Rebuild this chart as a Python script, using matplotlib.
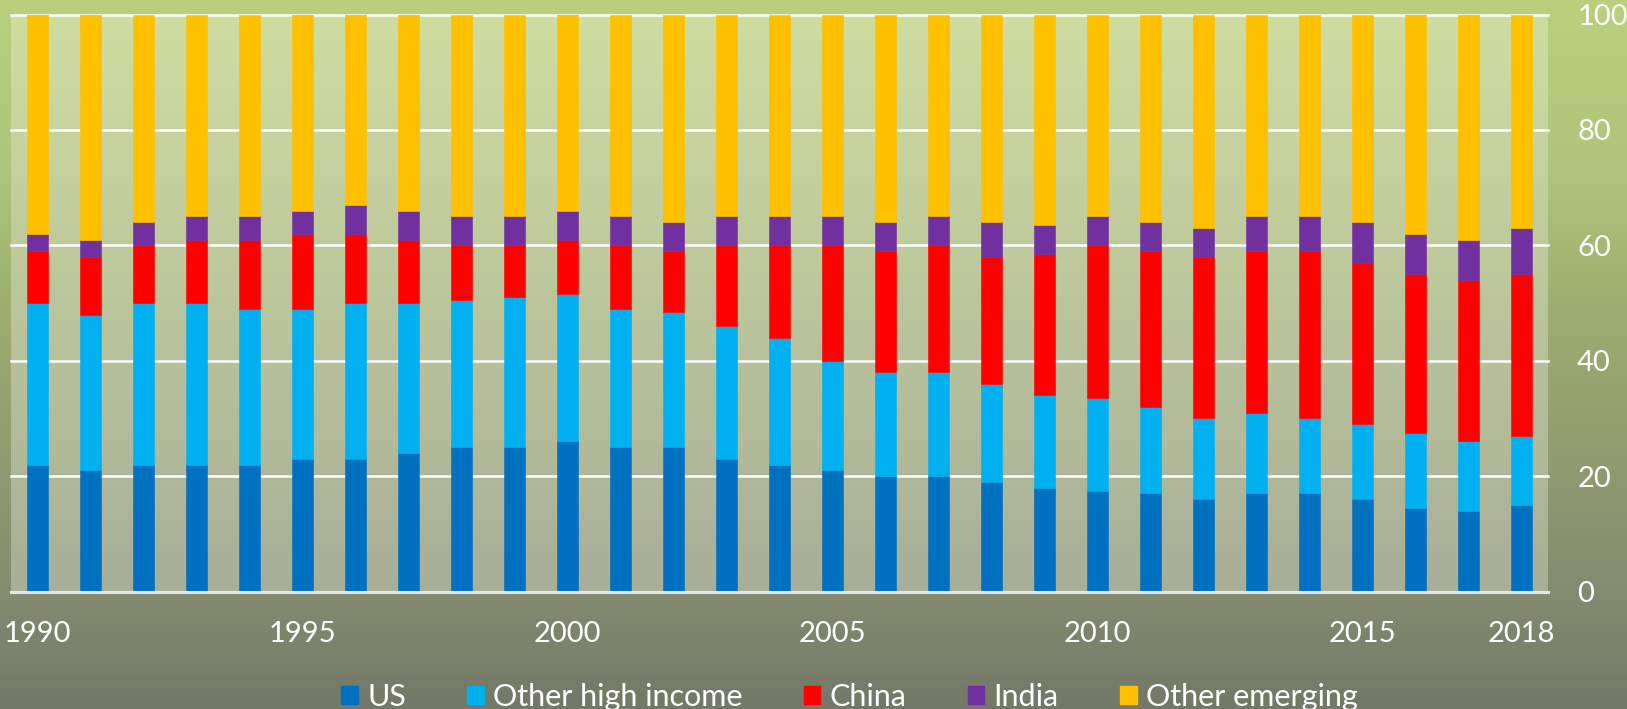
import numpy as np
import matplotlib
matplotlib.use("Agg")
import matplotlib.pyplot as plt
from matplotlib.colors import LinearSegmentedColormap
from matplotlib.patches import Patch

years = list(range(1990, 2019))
us = [22, 21, 22, 22, 22, 23, 23, 24, 25, 25, 26, 25, 25, 23, 22, 21, 20, 20, 19, 18, 17.5, 17, 16, 17, 17, 16, 14.5, 14, 15]
other_high = [28, 27, 28, 28, 27, 26, 27, 26, 25.5, 26, 25.5, 24, 23.5, 23, 22, 19, 18, 18, 17, 16, 16, 15, 14, 14, 13, 13, 13, 12, 12]
china = [9, 10, 10, 11, 12, 13, 12, 11, 9.5, 9, 9.5, 11, 10.5, 14, 16, 20, 21, 22, 22, 24.5, 26.5, 27, 28, 28, 29, 28, 27.5, 28, 28]
india = [3, 3, 4, 4, 4, 4, 5, 5, 5, 5, 5, 5, 5, 5, 5, 5, 5, 5, 6, 5, 5, 5, 5, 6, 6, 7, 7, 7, 8]
other_emerging = [38, 39, 36, 35, 35, 34, 33, 34, 35, 35, 34, 35, 36, 35, 35, 35, 36, 35, 36, 36.5, 35, 36, 37, 35, 35, 36, 38, 39, 37]
series_names = ["US", "Other high income", "China", "India", "Other emerging"]
series_colors = ["#0070C0", "#00B0F0", "#FF0000", "#7030A0", "#FFC000"]
xtick_years = [1990, 1995, 2000, 2005, 2010, 2015, 2018]
ytick_vals = [0, 20, 40, 60, 80, 100]

plt.rcParams['font.family'] = ['Lato', 'DejaVu Sans']

W, H = 1627, 709
fig = plt.figure(figsize=(W / 100, H / 100), dpi=100)

# figure background gradient
bg = fig.add_axes([0, 0, 1, 1], zorder=-10)
bg_cmap = LinearSegmentedColormap.from_list("bg", [
    (0.0, "#B9D07D"), (0.25, "#AEC47A"), (0.42, "#9DB070"),
    (0.85, "#838A6F"), (1.0, "#737868")])
grad = np.linspace(0, 1, 256).reshape(-1, 1)
bg.imshow(grad, aspect='auto', cmap=bg_cmap, extent=[0, 1, 0, 1], origin='upper')
bg.set_axis_off()

left = 11 / W
right = 1548 / W
bottom = 1 - 591.5 / H
top = 1 - 14.5 / H
ax = fig.add_axes([left, bottom, right - left, top - bottom])

# plot area gradient
pa_cmap = LinearSegmentedColormap.from_list("pa", ["#CFDDA0", "#A8AE98"])
ax.imshow(grad, aspect='auto', cmap=pa_cmap, extent=[-0.5, len(years) - 0.5, 0, 100],
          origin='upper', zorder=0)

x = np.arange(len(years))
data = [us, other_high, china, india, other_emerging]
bottoms = np.zeros(len(years))
for vals, name, col in zip(data, series_names, series_colors):
    v = np.array(vals, dtype=float)
    ax.bar(x, v, bottom=bottoms, width=0.385, color=col, label=name, zorder=3,
           edgecolor=col, linewidth=0.4)
    bottoms += v

ax.set_xlim(-0.5, len(years) - 0.5)
ax.set_ylim(0, 100)
for yv in ytick_vals[1:]:
    ax.axhline(yv, color="white", linewidth=1.8, zorder=2, clip_on=False)
ax.axhline(0, color="#E6E8E0", linewidth=2.2, zorder=4, clip_on=False)

for s in ax.spines.values():
    s.set_visible(False)

ax.yaxis.tick_right()
ax.set_yticks(ytick_vals)
ax.set_yticklabels([str(v) for v in ytick_vals])
ax.tick_params(axis='y', length=0, pad=21, labelsize=21, labelcolor="white")
for lbl in ax.get_yticklabels():
    lbl.set_horizontalalignment('left')

ax.set_xticks([years.index(y) for y in xtick_years])
ax.set_xticklabels([str(y) for y in xtick_years])
ax.tick_params(axis='x', length=0, pad=21, labelsize=21, labelcolor="white")

handles = [Patch(facecolor=c, edgecolor=c, label=n) for n, c in zip(series_names, series_colors)]
leg = fig.legend(handles=handles, loc='center', bbox_to_anchor=(0.522, 0.017), ncol=5,
                 frameon=False, fontsize=22, labelcolor="white", handlelength=0.55,
                 handleheight=0.55, handletextpad=0.3, columnspacing=2.0)

fig.savefig("out.png", dpi=100)
